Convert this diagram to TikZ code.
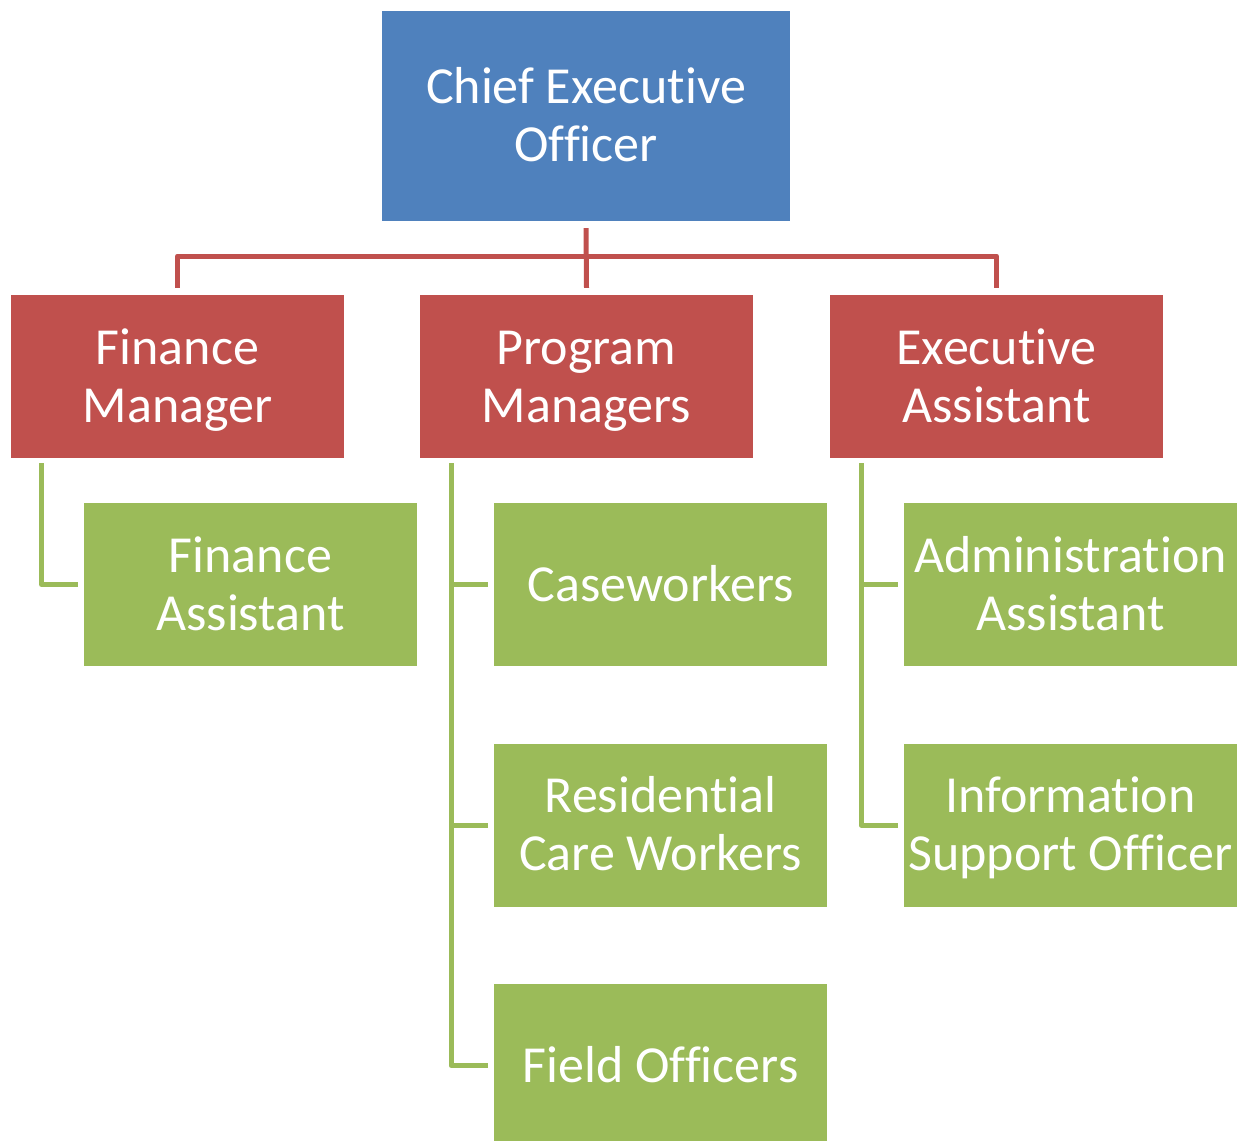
\documentclass[tikz,border=0pt]{standalone}
\usepackage{fontspec}
\setmainfont{Carlito}[Ligatures=NoCommon]
\definecolor{ceoblue}{HTML}{4F81BD}
\definecolor{mgrred}{HTML}{C0504D}
\definecolor{staffgreen}{HTML}{9BBB59}
\newcommand\myfl{\rule[-17.4pt]{0pt}{68pt}}
\newcommand\myln{\strut}
\begin{document}
\begin{tikzpicture}[x=1pt,y=-1pt,
  box/.style={text=white, align=center, inner sep=0pt,
    font=\fontsize{52}{58}\selectfont},
  ceobox/.style={box, fill=ceoblue, minimum width=408pt, minimum height=210pt},
  mgrbox/.style={box, fill=mgrred, minimum width=333pt, minimum height=163pt},
  staffbox/.style={box, fill=staffgreen, minimum width=333pt, minimum height=163pt},
  redline/.style={draw=mgrred, line width=5pt, line join=round},
  greenline/.style={draw=staffgreen, line width=5pt, line join=round}]
\useasboundingbox (0,0) rectangle (1243,1141);
\node[ceobox] (ceo) at (586,116) {\myfl Chief Executive\\\myln Officer};
\node[mgrbox] (fm) at (177.5,376.5) {\myfl Finance\\\myln Manager};
\node[mgrbox] (pm) at (586.5,376.5) {\myfl Program\\\myln Managers};
\node[mgrbox] (ea) at (996.5,376.5) {\myfl Executive\\\myln Assistant};
\node[staffbox] (fa) at (250.5,584.5) {\myfl Finance\\\myln Assistant};
\node[staffbox] (cw) at (660.5,584.5) {\myfl Caseworkers};
\node[staffbox] (rc) at (660.5,825) {\myfl Residential\\\myln Care Workers};
\node[staffbox] (fo) at (660.5,1065.5) {\myfl Field Officers};
\node[staffbox] (aa) at (1070.5,584.5) {\myfl Administration\\\myln Assistant};
\node[staffbox] (is) at (1070.5,825) {\myfl Information\\\myln Support Officer};
% red connectors
\coordinate (hub) at (586,256);
\draw[redline] ([yshift=7pt]fm.north) -- (fm.north |- hub) -- (ea.north |- hub) -- ([yshift=7pt]ea.north);
\draw[redline] ([yshift=-7pt]ceo.south) -- ([yshift=7pt]pm.north);
% green connectors
\draw[greenline] ([xshift=-136pt,yshift=-5pt]fm.south) |- ([xshift=-6pt]fa.west);
\draw[greenline] ([xshift=-135.5pt,yshift=-5pt]pm.south) |- ([xshift=-6pt]fo.west);
\draw[greenline] ([xshift=-135.5pt]pm.south |- cw.west) -- ([xshift=-6pt]cw.west);
\draw[greenline] ([xshift=-135.5pt]pm.south |- rc.west) -- ([xshift=-6pt]rc.west);
\draw[greenline] ([xshift=-135.5pt,yshift=-5pt]ea.south) |- ([xshift=-6pt]is.west);
\draw[greenline] ([xshift=-135.5pt]ea.south |- aa.west) -- ([xshift=-6pt]aa.west);
\end{tikzpicture}
\end{document}
